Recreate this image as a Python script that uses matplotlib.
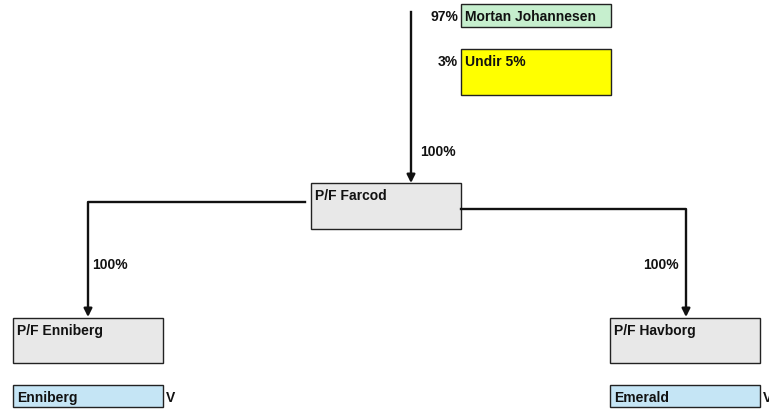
import matplotlib.pyplot as plt
from matplotlib.patches import Rectangle

# boxes: label, x, y, width, height, fill colour (pixel coordinates)
box_labels = ["Mortan Johannesen", "Undir 5%", "P/F Farcod", "P/F Enniberg",
              "P/F Havborg", "Enniberg", "Emerald"]
box_x = [461, 461, 311, 13, 610, 13, 610]
box_y = [5, 50, 184, 319, 319, 386, 386]
box_w = [150, 150, 150, 150, 150, 150, 150]
box_h = [23, 46, 46, 45, 45, 22, 22]
box_colors = ["#c6efce", "#ffff00", "#e8e8e8", "#e8e8e8", "#e8e8e8",
              "#c5e5f5", "#c5e5f5"]

# ownership labels
pct_labels = ["97%", "3%", "100%", "100%", "100%", "V", "V"]
pct_x = [458, 458, 420, 92, 643, 166, 763]
pct_y = [17, 62, 152, 265, 265, 398, 398]
pct_ha = ["right", "right", "left", "left", "left", "left", "left"]

# connector paths (polylines ending in an arrow)
paths = [
    ([411, 411], [13, 184]),
    ([305, 88, 88], [203, 203, 318]),
    ([461, 686, 686], [210, 210, 318]),
]

plt.rcParams["font.family"] = ["Liberation Sans", "DejaVu Sans"]

fig = plt.figure(figsize=(7.69, 4.14), dpi=100)
ax = fig.add_axes([0, 0, 1, 1])
ax.set_xlim(0, 769)
ax.set_ylim(414, 0)
ax.axis("off")

for lab, x, y, w, h, c in zip(box_labels, box_x, box_y, box_w, box_h, box_colors):
    ax.add_patch(Rectangle((x, y), w, h, facecolor=c, edgecolor="#222222", lw=1))
    ax.text(x + 4, y + 12, lab, ha="left", va="center", fontsize=10,
            fontweight="bold", color="#111111")

for lab, x, y, ha in zip(pct_labels, pct_x, pct_y, pct_ha):
    ax.text(x, y, lab, ha=ha, va="center", fontsize=10, fontweight="bold",
            color="#111111")

for xs, ys in paths:
    ax.plot(xs[:-1] + [xs[-1]], ys[:-1] + [ys[-1] - 8], color="#111111", lw=1.7)
    ax.annotate("", xy=(xs[-1], ys[-1]), xytext=(xs[-1], ys[-1] - 10),
                arrowprops=dict(arrowstyle="-|>", color="#111111", lw=1.7,
                                mutation_scale=12, shrinkA=0, shrinkB=0))

fig.savefig("out.png", dpi=100)
